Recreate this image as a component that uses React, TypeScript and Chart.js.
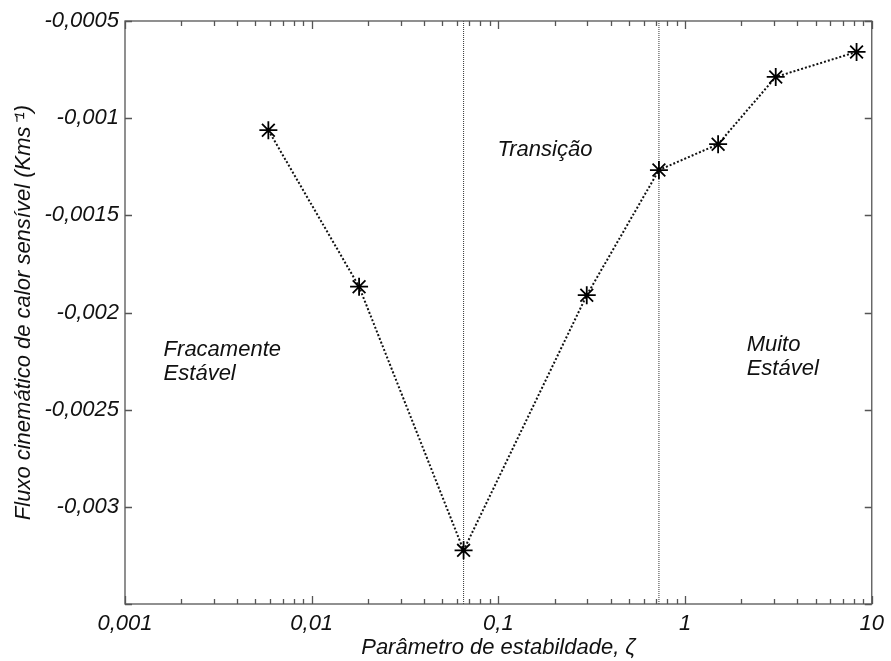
import React, { useEffect, useRef } from 'react';
import { Chart, registerables } from 'chart.js';

Chart.register(...registerables);

// ---- data ----
const zeta = [0.00586, 0.01794, 0.0651, 0.2974, 0.7244, 1.503, 3.059, 8.29];
const flux = [-0.001062, -0.001867, -0.003224, -0.001911, -0.001267, -0.001134, -0.000788, -0.000659];
const boundaries = [0.0651, 0.7244];

const xMin = 0.001;
const xMax = 10;
const yMin = -0.0035;
const yMax = -0.0005;

const xTickValues = [0.001, 0.01, 0.1, 1, 10];
const xTickLabels = ['0,001', '0,01', '0,1', '1', '10'];
const yTickValues = [-0.0035, -0.003, -0.0025, -0.002, -0.0015, -0.001, -0.0005];
const yTickLabels = ['', '-0,003', '-0,0025', '-0,002', '-0,0015', '-0,001', '-0,0005'];

const regionTexts = [['Fracamente', 'Estável'], ['Transição'], ['Muito', 'Estável']];
const regionX = [0.00161, 0.0988, 2.137];
const regionY = [-0.002192, -0.001164, -0.002167];

const xTitle = 'Parâmetro de estabildade, ζ';
const yTitle = 'Fluxo cinemático de calor sensível (Kms⁻¹)';

const FONT = "'Liberation Sans', Arial, sans-serif";
const FONT_SIZE = 22;
const AXIS_COLOR = '#555';
const TEXT_COLOR = '#111';

const framePlugin = {
  id: 'frameAndTicks',
  afterDraw(chart: any) {
    const { ctx, chartArea } = chart;
    const xs = chart.scales.x;
    const ys = chart.scales.y;
    const { left, right, top, bottom } = chartArea;
    ctx.save();
    ctx.strokeStyle = AXIS_COLOR;
    ctx.lineWidth = 1.3;
    ctx.strokeRect(left, top, right - left, bottom - top);
    ctx.beginPath();
    // x ticks (major decades + log minor)
    for (let i = 0; i < xTickValues.length; i++) {
      const d = xTickValues[i];
      const px = Math.round(xs.getPixelForValue(d)) + 0.5;
      ctx.moveTo(px, bottom);
      ctx.lineTo(px, bottom - 8);
      ctx.moveTo(px, top);
      ctx.lineTo(px, top + 8);
      if (d < xMax) {
        for (let k = 2; k <= 9; k++) {
          const mx = Math.round(xs.getPixelForValue(d * k)) + 0.5;
          ctx.moveTo(mx, bottom);
          ctx.lineTo(mx, bottom - 5);
          ctx.moveTo(mx, top);
          ctx.lineTo(mx, top + 5);
        }
      }
    }
    // y ticks
    for (const v of yTickValues) {
      const py = Math.round(ys.getPixelForValue(v)) + 0.5;
      ctx.moveTo(left, py);
      ctx.lineTo(left + 7, py);
      ctx.moveTo(right, py);
      ctx.lineTo(right - 7, py);
    }
    ctx.stroke();

    // region labels
    ctx.fillStyle = TEXT_COLOR;
    ctx.font = `italic ${FONT_SIZE}px ${FONT}`;
    ctx.textAlign = 'left';
    ctx.textBaseline = 'middle';
    regionTexts.forEach((lines, i) => {
      const px = xs.getPixelForValue(regionX[i]);
      const py = ys.getPixelForValue(regionY[i]);
      lines.forEach((t, j) => ctx.fillText(t, px, py + j * 24));
    });
    ctx.restore();
  },
};

export default function App() {
  const ref = useRef<HTMLCanvasElement | null>(null);

  useEffect(() => {
    if (!ref.current) return;
    const series = zeta.map((x, i) => ({ x, y: flux[i] }));
    const font = { family: FONT, size: FONT_SIZE, style: 'italic' as const };
    const chart = new Chart(ref.current, {
      type: 'line',
      data: {
        datasets: [
          {
            label: 'fluxo',
            data: series,
            borderColor: '#111',
            borderWidth: 2,
            borderDash: [2, 2],
            pointStyle: 'star',
            pointRadius: 9,
            pointBorderWidth: 1.8,
            pointBorderColor: '#000',
            pointBackgroundColor: '#000',
            fill: false,
            tension: 0,
          },
          ...boundaries.map((b, i) => ({
            label: 'lim' + i,
            data: [
              { x: b, y: yMin },
              { x: b, y: yMax },
            ],
            borderColor: '#333',
            borderWidth: 1,
            borderDash: [1, 1],
            pointRadius: 0,
            fill: false,
          })),
        ],
      },
      options: {
        animation: false,
        responsive: false,
        maintainAspectRatio: false,
        layout: { padding: { top: 21, right: 14, left: 0, bottom: 0 } },
        plugins: {
          legend: { display: false },
          tooltip: { enabled: false },
        },
        scales: {
          x: {
            type: 'logarithmic',
            min: xMin,
            max: xMax,
            afterBuildTicks: (s: any) => {
              s.ticks = xTickValues.map((v) => ({ value: v }));
            },
            afterFit: (s: any) => {
              s.height = 57;
            },
            grid: { display: false, drawTicks: false },
            border: { display: false },
            ticks: {
              autoSkip: false,
              maxRotation: 0,
              padding: 7,
              color: TEXT_COLOR,
              font,
              callback: (_v: any, i: number) => xTickLabels[i],
            },
            title: {
              display: true,
              text: xTitle,
              color: TEXT_COLOR,
              font,
              padding: { top: 0, bottom: 0 },
            },
          },
          y: {
            type: 'linear',
            min: yMin,
            max: yMax,
            afterBuildTicks: (s: any) => {
              s.ticks = yTickValues.map((v) => ({ value: v }));
            },
            afterFit: (s: any) => {
              s.width = 125;
            },
            grid: { display: false, drawTicks: false },
            border: { display: false },
            ticks: {
              autoSkip: false,
              padding: 6,
              color: TEXT_COLOR,
              font,
              callback: (_v: any, i: number) => yTickLabels[i],
            },
            title: {
              display: true,
              text: yTitle,
              color: TEXT_COLOR,
              font,
              padding: { top: 11, bottom: 0 },
            },
          },
        },
      },
      plugins: [framePlugin],
    } as any);
    return () => chart.destroy();
  }, []);

  return (
    <div style={{ position: 'absolute', left: 0, top: 0, width: 891, height: 661, background: '#fff' }}>
      <canvas ref={ref} width={891} height={661} style={{ display: 'block' }} />
    </div>
  );
}
